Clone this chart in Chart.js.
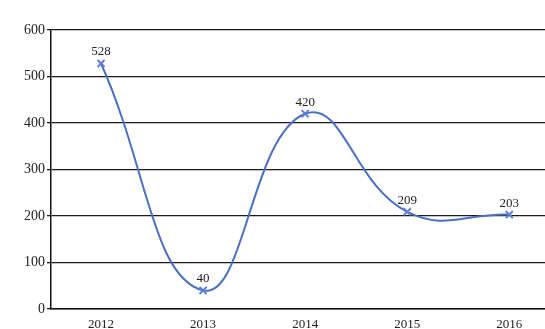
<!DOCTYPE html>
<html>
<head>
  <meta charset="UTF-8">
  <title>Chart</title>
  <script src="https://cdn.jsdelivr.net/npm/chart.js"></script>
  <style>
    html, body { margin: 0; padding: 0; background: #fff; overflow: hidden; }
    canvas { display: block; }
  </style>
</head>
<body>
  <canvas id="c" width="545" height="329"></canvas>

  <script>
    const years = [2012, 2013, 2014, 2015, 2016];
    const values = [528, 40, 420, 209, 203];
    const yTicks = [0, 100, 200, 300, 400, 500, 600];

    const serif = '"Liberation Serif", "DejaVu Serif", serif';

    // value labels above each point
    const pointLabels = {
      id: 'pointLabels',
      afterDatasetsDraw(chart) {
        const ctx = chart.ctx;
        const meta = chart.getDatasetMeta(0);
        ctx.save();
        ctx.font = '13px ' + serif;
        ctx.fillStyle = '#222';
        ctx.textAlign = 'center';
        ctx.textBaseline = 'bottom';
        meta.data.forEach((pt, i) => {
          ctx.fillText(values[i], pt.x, pt.y - 5);
        });
        ctx.restore();
      }
    };

    new Chart(document.getElementById('c').getContext('2d'), {
      type: 'line',
      data: {
        datasets: [{
          data: years.map((y, i) => ({ x: y, y: values[i] })),
          borderColor: '#4a6fc4',
          borderWidth: 2,
          tension: 0.45,
          pointStyle: 'crossRot',
          pointRadius: 5,
          pointBorderWidth: 2,
          pointBorderColor: '#5b7fd6',
          fill: false
        }]
      },
      options: {
        responsive: false,
        animation: false,
        layout: { autoPadding: false, padding: { top: 30, right: 0, left: 0, bottom: 0 } },
        plugins: {
          legend: { display: false },
          tooltip: { enabled: false }
        },
        scales: {
          x: {
            type: 'linear',
            min: 2011.51,
            max: 2016.35,
            afterBuildTicks: s => { s.ticks = years.map(v => ({ value: v })); },
            afterFit: s => { s.height = 20; },
            grid: { display: false },
            border: { color: '#111', width: 1.5 },
            ticks: {
              callback: v => String(v),
              font: { family: serif, size: 13 },
              color: '#222',
              padding: 0,
              maxRotation: 0
            }
          },
          y: {
            min: 0,
            max: 600,
            afterBuildTicks: s => { s.ticks = yTicks.map(v => ({ value: v })); },
            afterFit: s => { s.width = 51; },
            grid: { color: '#1a1a1a', lineWidth: 1.3, drawTicks: true, tickLength: 4 },
            border: { color: '#111', width: 1.5 },
            ticks: {
              font: { family: serif, size: 14 },
              color: '#222',
              padding: 2
            }
          }
        }
      },
      plugins: [pointLabels]
    });
  </script>
</body>
</html>
